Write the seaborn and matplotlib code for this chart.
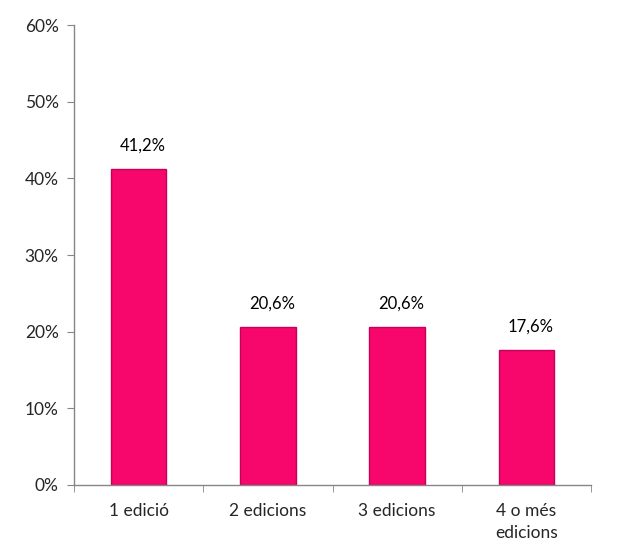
import numpy as np
import pandas as pd
import seaborn as sns
import matplotlib.pyplot as plt
from matplotlib.ticker import FixedLocator, PercentFormatter

# dades
categories = ["1 edició", "2 edicions", "3 edicions", "4 o més\nedicions"]
values = [41.2, 20.6, 20.6, 17.6]
labels = ["41,2%", "20,6%", "20,6%", "17,6%"]

df = pd.DataFrame({"cat": categories, "val": values})

sns.set_style("white")
plt.rcParams['font.family'] = ['Lato', 'DejaVu Sans']

fig = plt.figure(figsize=(6.4, 5.48), dpi=100)
ax = fig.add_axes([0.1156, 0.115, 0.808, 0.839])

sns.barplot(data=df, x="cat", y="val", color="#F7066B", width=0.43,
            edgecolor="#C9005A", linewidth=1.0, saturation=1, ax=ax)

for p, lab in zip(ax.patches, labels):
    ax.text(p.get_x() + p.get_width() / 2 + 0.03, p.get_height() + 2.0, lab,
            ha='center', va='bottom', fontsize=12, color='black')

ax.set_ylim(0, 60)
ax.set_xlim(-0.5, 3.5)
ax.set_yticks(np.arange(0, 61, 10))
ax.yaxis.set_major_formatter(PercentFormatter(decimals=0))
ax.set_xlabel("")
ax.set_ylabel("")
for t in ax.get_xticklabels():
    t.set_linespacing(1.45)

# marques de l'eix x entre categories
ax.xaxis.set_minor_locator(FixedLocator([-0.5, 0.5, 1.5, 2.5, 3.5]))
ax.tick_params(axis='x', which='major', length=0, pad=13, labelsize=12.5)
ax.tick_params(axis='x', which='minor', length=5, color='#868686', direction='out', bottom=True)
ax.tick_params(axis='y', length=5, color='#868686', direction='out', left=True, labelsize=12.5, pad=6)

for s in ['top', 'right']:
    ax.spines[s].set_visible(False)
for s in ['left', 'bottom']:
    ax.spines[s].set_color('#868686')
    ax.spines[s].set_linewidth(1.0)

fig.savefig("out.png", dpi=100)
